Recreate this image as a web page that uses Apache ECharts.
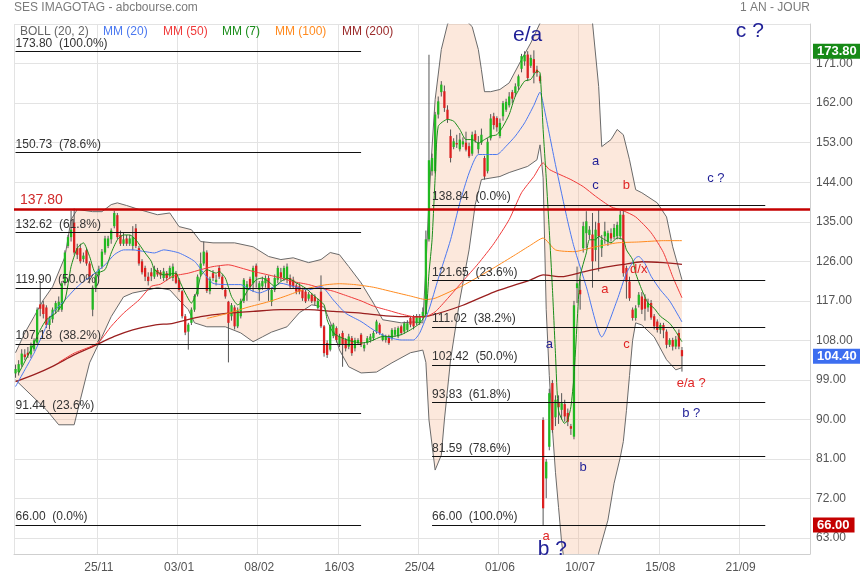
<!DOCTYPE html>
<html><head><meta charset="utf-8">
<script src="https://cdn.jsdelivr.net/npm/echarts@6/dist/echarts.min.js"></script>
<style>html,body{margin:0;padding:0;background:#fff}#c{width:860px;height:580px}</style>
</head><body><div id="c"></div>
<script>
const FONT = 'Liberation Sans, Arial, sans-serif';
const N_SLOTS = 258;
const dateLabels = ['25/11','03/01','08/02','16/03','25/04','01/06','10/07','15/08','21/09'];
const dateIdx = [27,53,79,105,131,157,183,209,235];
const yTicks = [63,72,81,90,99,108,117,126,135,144,153,162,171];
const yLines = [63,72,81,90,99,108,117,126,135,144,153,162,171,180];

// open, close, low, high
const ohlc = [
[100.5,101.5,99.5,102.5],[100.8,102.6,100,103.5],[102.5,105,102,106],[104.8,104.2,103.5,106],[105.2,104.6,104,106.5],
[104.8,106.8,104,107.5],[106,108,105.5,108.5],[107.5,115,107,115.5],[116.2,115.2,113.5,121.5],[116.2,114,113,117],
[115.5,111.5,110.8,116],[111.5,113,110.5,113.5],[112.8,115,112,115.5],[114.8,116.5,114,117],[115,116.8,114.5,118],
[115,121,114.5,121.5],[121,128,120.5,128.5],[129.5,131.5,129,132],[131.5,133.2,130.5,137.5],[134.8,128,127.5,138],
[129,127.5,126.5,130],[129,126,125.5,130],[126.5,127.3,125.8,128],[128.5,125.5,125,129],[125.5,122.5,121,126],
[115,120,113.5,120.5],[120,122.8,119,123.5],[122.8,124.3,122.3,125],[124.8,128.2,124.3,128.8],[128,131.2,127.5,131.8],
[129.5,131.2,129,131.8],[131,133,130,133.5],[134,137,133.5,137.5],[136.5,131.5,131,137],[132,130,129.5,133],
[130,131,129.5,132.5],[131.2,130,129.5,132],[130,131.2,129.5,132],[129.5,131.5,128.5,134],[133.5,129.5,129,134.5],
[129,125.5,125,129.5],[126,123.5,123,126.5],[124.5,122.5,121.5,125],[122.5,121.5,120.5,123.5],
[123.5,122.6,121.5,124.5],[122.5,124.3,122,125],[124,123,122.5,124.5],[123.5,122.8,122,124],[122.2,123.7,121.5,124.5],
[123.3,122.2,121.5,123.8],[122.6,124.5,122,125],[122.2,124.8,121.5,125.5],[123.3,121.1,120.8,123.8],[121.8,119.5,119,122.2],
[119.2,113.5,113,119.5],[113.5,109.8,109.2,114],[110,111.6,105.9,112],[112,115,111.5,115.5],[115,118.1,114.5,118.5],
[118.5,122.5,118,123],[123,125.5,122.5,128],[125.5,128.2,125,130.5],[128,119.3,118.8,128.5],[119.2,122,118.5,122.5],
[123.3,122.2,121.5,124],[121.3,121.8,120.5,123],[124.5,122.5,122,125],[122.5,119.8,119.5,123],[119.5,118,117.5,120],
[116.8,112,103,117],[113.5,116,112.5,116.5],[115.5,111.2,110.5,116],[111.2,114.8,110.8,115.5],[113.5,117,113,117.5],
[117,121.8,116.5,122.2],[119.5,120.8,117,121.5],[122,120.2,119.5,122.5],[121,124.5,119,125],[125,122.5,120,125.5],
[119.5,121,117,121.5],[120.3,121.5,119.5,122.5],[121,122.2,120,122.8],[122.2,119.5,117,122.8],[116.8,119.5,115.8,120],
[119.5,122.2,119,123],[121.8,124.5,121,125],[123.5,122.3,121.5,124.5],
[122.2,124.5,121.5,125],[121.8,124.8,121,125.5],[122.2,120.3,119.8,123],[121.8,120.3,119.8,122.5],[120.5,119.1,118.5,121],
[120.3,119.1,118.5,121],[119.5,117.6,117,120],[119.1,116.9,116.5,119.5],[117.5,118.5,117,119],[118.4,116.9,116.5,118.8],
[118,116.9,116,118.5],[115.4,117,115,117.5],[119.1,111.2,110.8,122.8],[111.2,105.1,104.3,111.5],[107.4,104.7,104,108],
[105.9,111.2,105.5,111.6],[109,111.6,108.5,112],[110.8,108.1,107.5,111.2],[107,108.9,106.5,109.5],[109.7,107,102,110.2],
[108.1,106.2,105.5,108.5],[106.6,108.9,106,109.5],[108.5,105.1,104.5,109],[106.2,108.1,105.5,108.6],[107.4,108.1,107,108.5],
[109.3,107,106.5,109.7],[106.2,107,105.5,107.5],[107.4,108.5,107,109],[108.1,108.9,107.5,109.5],[108.5,109.7,108,110.2],
[110,112.3,109.5,112.7],[111.6,109.7,109.3,112],[108.1,109.3,107.8,109.6],[108.1,108.9,107.5,109.3],[108.9,107.4,107,109.3],
[108.5,110.4,108,110.8],[109.3,110.4,108.8,111],[108.9,110.8,108.5,111.2],[111.2,109.7,109.2,111.6],[110,111.9,109.5,112.3],
[110.4,111.9,110,112.6],[113.1,111.6,111,113.5],[113.5,111.2,110.5,113.8],[111.9,113.5,111.5,114],[112,113.5,111.5,114],
[113.5,114.5,113,115.5],[114,131,113.5,133],[131,149,130.5,173],
[146.5,149.5,145.5,150.5],[146.5,159.4,146,160],[159.4,162.4,158.5,163.5],[164.5,166.2,163.5,167],[164.7,160.9,160,166],
[160.5,158.3,157.5,161.5],[154.5,149.5,148.5,156],[152,153.3,151.5,154],[152.9,152.6,151.8,154.8],[151.5,153.7,151,155.2],
[152.6,153.3,152,154.2],[153,151.4,151,155.5],[152.2,149.9,149.5,153],[150.5,154.8,150,155.5],[155,153.5,153,155.8],
[151.5,153,150.5,154.5],[153,154.8,152.5,156.2],[149.5,145.3,144.6,150],[146.5,153.2,146,154],[154,158.5,153.5,159.5],
[159,157,156,159.8],[158.6,156.5,155.5,159],[154.5,157.5,154,158.5],[159,162,158,162.5],[160.5,162.3,160,163],
[161.5,163.5,161,164.5],[164.5,163,162,165],[164.3,165.8,163.5,166.5],[165.8,168.1,165,168.5],[169.8,172.7,169,173.2],
[171.5,173,170.5,173.8],[173.05,167.7,167,173.8],[170.5,172.3,170,173],[172,168.9,166.5,174],[169.6,168.9,168,170.5],
[168.1,167,166.5,168.5],
[89.9,69.8,66.0,90.5],[76.6,80.4,72.1,81],[83.8,96.0,83,97],[98.3,87.6,87,99.0],[90.5,94.5,88.5,95.5],
[94.0,92.8,89,95.5],[92.2,93.7,90,96],[93.5,90.7,89.5,94.5],[91.5,89.5,88.5,92.5],[88.5,87.9,86.5,89],
[86.1,116,85.5,117],[119.9,121,116.5,124.8],[119.5,118.5,115,122],[129,134,128,135],[132.4,135.1,129,137.4],
[132,133.2,131,134],[132.1,126,120,137],[128.6,133.2,126,135],[134.7,131.7,123.7,137.7],[129,130.9,127,132],
[131.7,132.8,130,135],[130.5,132.4,129.5,133],[132.4,131.2,130.5,133.5],[131.5,133.6,131,134.5],[131.7,134.3,131,135],
[131.7,136.6,131,137.5],[136.6,123.3,122.5,137.5],[124.5,121.4,117.5,125],[121.4,117.6,117,122.5],[115,113.1,112.5,115.5],
[113.1,115.3,112.5,116],[116.1,118.4,115.5,119],[118,115,114,119],[117.5,115.2,112.5,118.5],[115.5,116.5,114.5,117.5],
[116.5,113.2,112.7,117.2],[113.5,111.2,110.5,114],[112.3,110.4,109.8,112.8],[110.4,111.5,109.5,112],[111.5,110.3,108.5,112],
[110,107,106.2,110.5],[107,108.1,106.5,108.5],[108.1,106.6,105.7,108.6],[106.6,108.2,106,109],[109.7,106.6,106,110.5],
[105.8,104.4,100.9,106.5]
];

const mm7 = [[1,100.5],[5,105.9],[8,110.4],[10,112.7],[13,114.2],[16,117.2],[18,124.8],[20,129],[22,130.2],[24,127.1],[26,123.3],[29,124.1],[31,127.9],[33,130.9],[35,132.0],[37,132.0],[39,130.9],[42,127.9],[44,126],[45,124.1],[48,122.9],[52,123.3],[53,121.8],[55,118.8],[57,116.5],[59,119.5],[60,122.6],[62,124.1],[65,123.3],[66,123.7],[68,122.2],[70,118],[72,116.1],[73,116.5],[75,119.1],[78,121.8],[80,122.2],[82,121.4],[84,120.3],[86,121.4],[88,122.2],[91,121.1],[94,119.9],[97,118],[100,116.1],[101,112.7],[103,109.7],[106,108.5],[109,107.8],[112,107.4],[115,107.8],[119,108.9],[122,108.9],[125,109.3],[128,110.4],[131,111.9],[133,114.2],[134,123.3],[135,130.9],[136,145],[137,156.7],[140,158.3],[142,157.9],[144,156.0],[146,153.7],[148,153.7],[150,152.9],[152,153.7],[154,154.5],[156,154.8],[158,156.7],[160,159.4],[162,163.6],[165,167.0],[167,167.4],[169,169.3],[170,168.9],[171,156],[172,145],[173,133],[174,120],[175,105],[176,92],[178,89.1],[179,89.9],[180,92.9],[181,99.8],[182,111.9],[183,122.6],[185,127.9],[186,130.9],[188,130.9],[189,131.7],[191,130.9],[193,130.2],[195,131.3],[197,130.9],[198,128.6],[200,126.4],[201,123.3],[203,119.5],[205,116.5],[207,115.3],[209,113.5],[212,111.9],[214,110.0],[216,107.7]];
const mm20 = [[0,97.5],[3,101.3],[6,105.1],[9,109.7],[12,114.2],[16,117.2],[19,119.5],[22,121.4],[25,122.9],[29,125.2],[32,127.5],[35,128.6],[38,128.6],[42,128.2],[45,127.9],[48,128.6],[53,127.9],[58,126],[61,123.3],[64,121.0],[69,120.7],[73,120.7],[76,119.5],[79,118.8],[84,120.3],[86,121.0],[90,120.3],[95,119.5],[99,120.3],[103,117.2],[107,114.2],[112,112.3],[116,110.4],[120,108.9],[125,108.1],[129,108.1],[131,109.7],[134,115],[137,122],[141,130.9],[144,139.3],[147,146.1],[150,150.3],[153,150.3],[156,150.3],[159,152.2],[162,154.5],[165,157.5],[168,161.5],[170,164.5],[171,162],[175,148],[179,135],[181,129.3],[185,120.2],[190,108.8],[195,117.2],[198,123.3],[201,126.8],[202,127.1],[204,125.5],[206,122.6],[209,119.5],[212,117.0],[216,112.2]];
const mm50 = [[14,103.0],[19,105.1],[24,106.5],[27,107.6],[31,111.2],[35,114.2],[40,117.2],[44,120.3],[47,120.8],[51,122.6],[56,123.3],[60,124.1],[64,124.8],[69,125.2],[73,124.5],[77,123.7],[82,122.9],[86,122.2],[90,121.4],[95,120.7],[99,119.9],[103,119.2],[108,118],[112,117],[116,115.8],[121,114.8],[125,114],[130,113.3],[133,113.4],[136,114.5],[140,117.5],[145,121.5],[150,125.5],[155,130],[160,135.5],[164,141.6],[168,145.3],[171,148.4],[173,146.9],[180,144.6],[184,143.0],[188,140.8],[193,138.4],[197,137.5],[201,136.1],[206,132.5],[210,128],[213,122.5],[216,117.7]];
const mm100 = [[62,113.0],[69,114.2],[75,115.5],[82,116.8],[88,118.2],[93,119.5],[97,120.2],[101,120.7],[105,120.9],[110,120.7],[116,120.1],[122,119.1],[128,118.1],[133,117.3],[136,117.6],[145,120.5],[155,124.5],[162,127.5],[167,129.7],[171,131.3],[175,128.6],[181,128.2],[188,129.3],[195,130.2],[202,130.4],[210,130.7],[216,130.7]];
const mm200 = [[0,98.6],[6,100.2],[12,102.1],[19,104.7],[25,106.6],[32,108.9],[38,110.4],[45,111.5],[51,111.9],[60,113.4],[69,114.2],[77,114.6],[86,115],[95,115],[103,114.6],[112,114.2],[120,113.6],[129,113.4],[134,113.6],[145,116],[155,119],[167,121.8],[171,122.9],[177,122.5],[184,123.6],[190,124.5],[197,125.3],[203,125.9],[210,125.7],[216,125.3]];
const bollUpper = [[0,105.2],[3,109.7],[6,113.4],[9,117.2],[12,120.2],[16,127.0],[18,135.5],[20,137.8],[25,137.3],[28,137.3],[31,138.9],[33,139.3],[36,138.7],[40,137.8],[46,136.6],[50,137.0],[53,133.9],[57,133.2],[60,130.5],[64,130.2],[71,130.2],[77,129.3],[82,127.1],[86,126.4],[90,126.8],[95,125.7],[99,126.4],[102,128.0],[105,127.5],[108,124.8],[112,121.1],[116,116.5],[119,112.7],[125,112.0],[129,112.2],[132,112.0],[133,124.5],[134,140],[135,152],[136,162.8],[138,174.2],[140,179.9],[142,183],[145,181.5],[148,179.4],[150,174.2],[151,169.6],[152,164.6],[154,164.6],[157,165.1],[160,166.6],[164,171.9],[167,175.7],[170,180.2],[172,195],[176,205],[181,205],[185,195],[187,180.3],[189,165.8],[190,152.1],[193,153.7],[195,156.0],[197,154.8],[199,149.1],[201,142.3],[203,141.6],[208,139.3],[211,136.1],[213,129.3],[216,121.8]];
const bollLower = [[0,99.0],[5,95.6],[10,92.2],[14,88.8],[19,88.8],[21,94.5],[24,102.9],[28,108.8],[31,113.4],[35,117.9],[38,118.8],[43,119.5],[46,120.0],[50,119.5],[53,117.2],[56,115.0],[58,112.0],[62,111.1],[68,111.1],[73,109.7],[77,107.7],[80,108.8],[83,109.9],[88,111.1],[92,114.3],[96,116.1],[100,115.6],[103,110.4],[105,105.8],[108,102.0],[112,100.6],[117,100.8],[122,102.9],[128,105.2],[132,105.8],[133,103],[134,89.9],[136,78.5],[138,81.9],[139,89.9],[141,103.6],[144,117.2],[147,128.6],[149,138.9],[151,144.6],[157,145.3],[160,146.2],[166,147.6],[169,149.1],[170,152.5],[171,145],[172,115],[173,100],[174,88],[175,78],[176,70],[177,62],[179,52],[182,45],[185,45],[188,52],[189,59.6],[192,67.1],[194,75.5],[196,81.4],[197,85],[198,92],[199,100],[200,108],[201,112.0],[203,111.5],[207,108.8],[211,103.6],[214,101.3],[216,101.8]];

const fibLeft = [[173.80,'100.0%'],[150.73,'78.6%'],[132.62,'61.8%'],[119.90,'50.0%'],[107.18,'38.2%'],[91.44,'23.6%'],[66.00,'0.0%']];
const fibRight = [[138.84,'0.0%'],[121.65,'23.6%'],[111.02,'38.2%'],[102.42,'50.0%'],[93.83,'61.8%'],[81.59,'78.6%'],[66.00,'100.0%']];
const fibLeftSpan = [0,112];
const fibRightSpan = [135,243];
const resistance = 137.80;
const badges = [[173.80,'#178a17'],[104.40,'#3d6ef0'],[66.00,'#c40000']];

const NAVY = '#1f1f96', RED = '#e02525';
const annotations = [
 [166,177.4,'e/a',NAVY,21],[238,178.3,'c ?',NAVY,21],[188,148.7,'a',NAVY,13],[188,143.2,'c',NAVY,13],
 [198,143.2,'b',RED,13],[227,144.8,'c ?',NAVY,13],[191,119.5,'a',RED,13],[202,124.1,'d/x',RED,13],
 [198,107.2,'c',RED,13],[219,98.3,'e/a ?',RED,13],[219,91.5,'b ?',NAVY,13],[173,107.0,'a',NAVY,13],
 [184,79.2,'b',NAVY,13],[172,63.3,'a',RED,13],[174,60.6,'b ?',NAVY,21]
];

const legendItems = [['BOLL (20, 2)','#666',20],['MM (20)','#4a78f0',103],['MM (50)','#f03a3a',163],['MM (7)','#1a8c1a',222],['MM (100)','#ff8a1e',275],['MM (200)','#9a2a2a',342]];

// ---- build ----
const categories = Array.from({length:N_SLOTS}, () => '');
dateIdx.forEach((k,j) => { categories[k] = dateLabels[j]; });
const candleData = ohlc.map((d,i) => [i, d[0], d[1], d[2], d[3]]);

const markData = [];
fibLeft.forEach(([v,p]) => markData.push([
  {coord:[fibLeftSpan[0], v], label:{formatter: v.toFixed(2)+'  ('+p+')'}},
  {coord:[fibLeftSpan[1], v]}]));
fibRight.forEach(([v,p]) => markData.push([
  {coord:[fibRightSpan[0], v], label:{formatter: v.toFixed(2)+'  ('+p+')'}},
  {coord:[fibRightSpan[1], v]}]));
markData.push({yAxis: resistance, lineStyle:{color:'#c40000', width:2.5, type:'solid'},
  label:{formatter: resistance.toFixed(2), color:'#d02a2a', fontSize:14, distance:[6,2]}});
badges.forEach(([v,c]) => markData.push({yAxis: v, lineStyle:{color:'rgba(0,0,0,0)', width:0, opacity:1},
  label:{position:'end', formatter: v.toFixed(2), color:'#fff', backgroundColor:c, fontSize:13, fontWeight:'bold',
    padding:[1,5,1,4], distance:3, opacity:1}}));

function lineSeries(name, data, color, width){
  return {name, type:'line', data, showSymbol:false, symbol:'none', smooth:0.2, clip:true, silent:true,
    lineStyle:{color, width}, z:4};
}

const chart = echarts.init(document.getElementById('c'), null, {renderer:'canvas'});
chart.setOption({
  animation:false,
  textStyle:{fontFamily:FONT},
  title:{text:'SES IMAGOTAG - abcbourse.com', left:14, top:2, padding:0, textStyle:{fontSize:12, color:'#7a7a7a', fontWeight:'normal', fontFamily:FONT}},
  graphic: [
    {type:'text', x:810, y:2, style:{text:'1 AN - JOUR', fill:'#7a7a7a', font:'12px '+FONT, align:'right'}},
    ...legendItems.map(([t,c,x]) => ({type:'text', x, y:26, z:100, style:{text:t, fill:c, font:'12px '+FONT}}))
  ],
  grid:{left:14, right:50, top:24, bottom:26},
  xAxis:{type:'category', data:categories, boundaryGap:true,
    axisLine:{lineStyle:{color:'#cfcfcf'}}, axisTick:{show:false},
    axisLabel:{interval:(i,v) => v !== '', color:'#555', fontSize:12, margin:8, fontFamily:FONT},
    splitLine:{show:true, interval:(i,v) => i === 0 || v !== '', lineStyle:{color:'#e3e3e3'}}},
  yAxis:{type:'value', position:'right', min:59.4, max:180, scale:true,
    axisLine:{show:true, lineStyle:{color:'#cfcfcf'}},
    axisTick:{show:false, customValues:yLines},
    axisLabel:{customValues:yTicks, formatter:v => v.toFixed(2), color:'#555', fontSize:12, margin:6, fontFamily:FONT},
    splitLine:{show:true, lineStyle:{color:'#e3e3e3'}}},
  series:[
    {type:'custom', silent:true, z:1, data:[[0,100]], encode:{x:0,y:1},
      renderItem:(params, api) => {
        const pts = bollUpper.map(d => api.coord(d)).concat(bollLower.slice().reverse().map(d => api.coord(d)));
        const cs = params.coordSys;
        return {type:'polygon', shape:{points:pts}, style:{fill:'rgba(246,180,140,0.3)'},
          clipPath:{type:'rect', shape:{x:cs.x, y:cs.y, width:cs.width, height:cs.height}}};
      }},
    {name:'bollU', type:'line', data:bollUpper, showSymbol:false, symbol:'none', clip:true, silent:true, lineStyle:{color:'#6a6a6a', width:1}, z:2},
    {name:'bollL', type:'line', data:bollLower, showSymbol:false, symbol:'none', clip:true, silent:true, lineStyle:{color:'#6a6a6a', width:1}, z:2},
    {type:'custom', name:'candles', data:candleData, encode:{x:0, y:[1,2,3,4]}, silent:true, z:3,
      renderItem:(params, api) => {
        const i = api.value(0), o = api.value(1), c = api.value(2), l = api.value(3), h = api.value(4);
        const pH = api.coord([i,h]), pL = api.coord([i,l]), pO = api.coord([i,o]), pC = api.coord([i,c]);
        const w = api.size([1,0])[0]*0.74;
        const y1 = Math.min(pO[1],pC[1]), y2 = Math.max(pO[1],pC[1]);
        const up = c >= o;
        return {type:'group', children:[
          {type:'line', shape:{x1:pH[0], y1:pH[1], x2:pL[0], y2:pL[1]}, style:{stroke:'#555', lineWidth:1}},
          {type:'rect', shape:{x:pO[0]-w/2, y:y1, width:w, height:Math.max(1, y2-y1)}, style:{fill: up ? '#22b822' : '#dc2020'}}
        ]};
      }},
    lineSeries('MM (200)', mm200, '#9a1f1f', 1.3),
    lineSeries('MM (100)', mm100, '#ff8a1e', 1),
    lineSeries('MM (50)', mm50, '#f03a3a', 1),
    lineSeries('MM (20)', mm20, '#4a78f0', 1),
    lineSeries('MM (7)', mm7, '#1a8c1a', 1),
    {name:'levels', type:'line', data:[], silent:true, z:5,
      markLine:{silent:true, symbol:['none','none'], animation:false,
        lineStyle:{color:'#111', width:1, type:'solid'},
        label:{position:'insideStartTop', color:'#333', fontSize:12, distance:[0,2], fontFamily:FONT},
        data:markData}},
    {name:'notes', type:'scatter', silent:true, z:6, symbol:'circle', symbolSize:1, itemStyle:{color:'transparent'},
      data: annotations.map(a => ({value:[a[0], a[1]],
        label:{show:true, position:'inside', formatter:a[2], color:a[3], fontSize:a[4], fontFamily:FONT, textBorderWidth:0, opacity:1}}))}
  ]
});
</script></body></html>
